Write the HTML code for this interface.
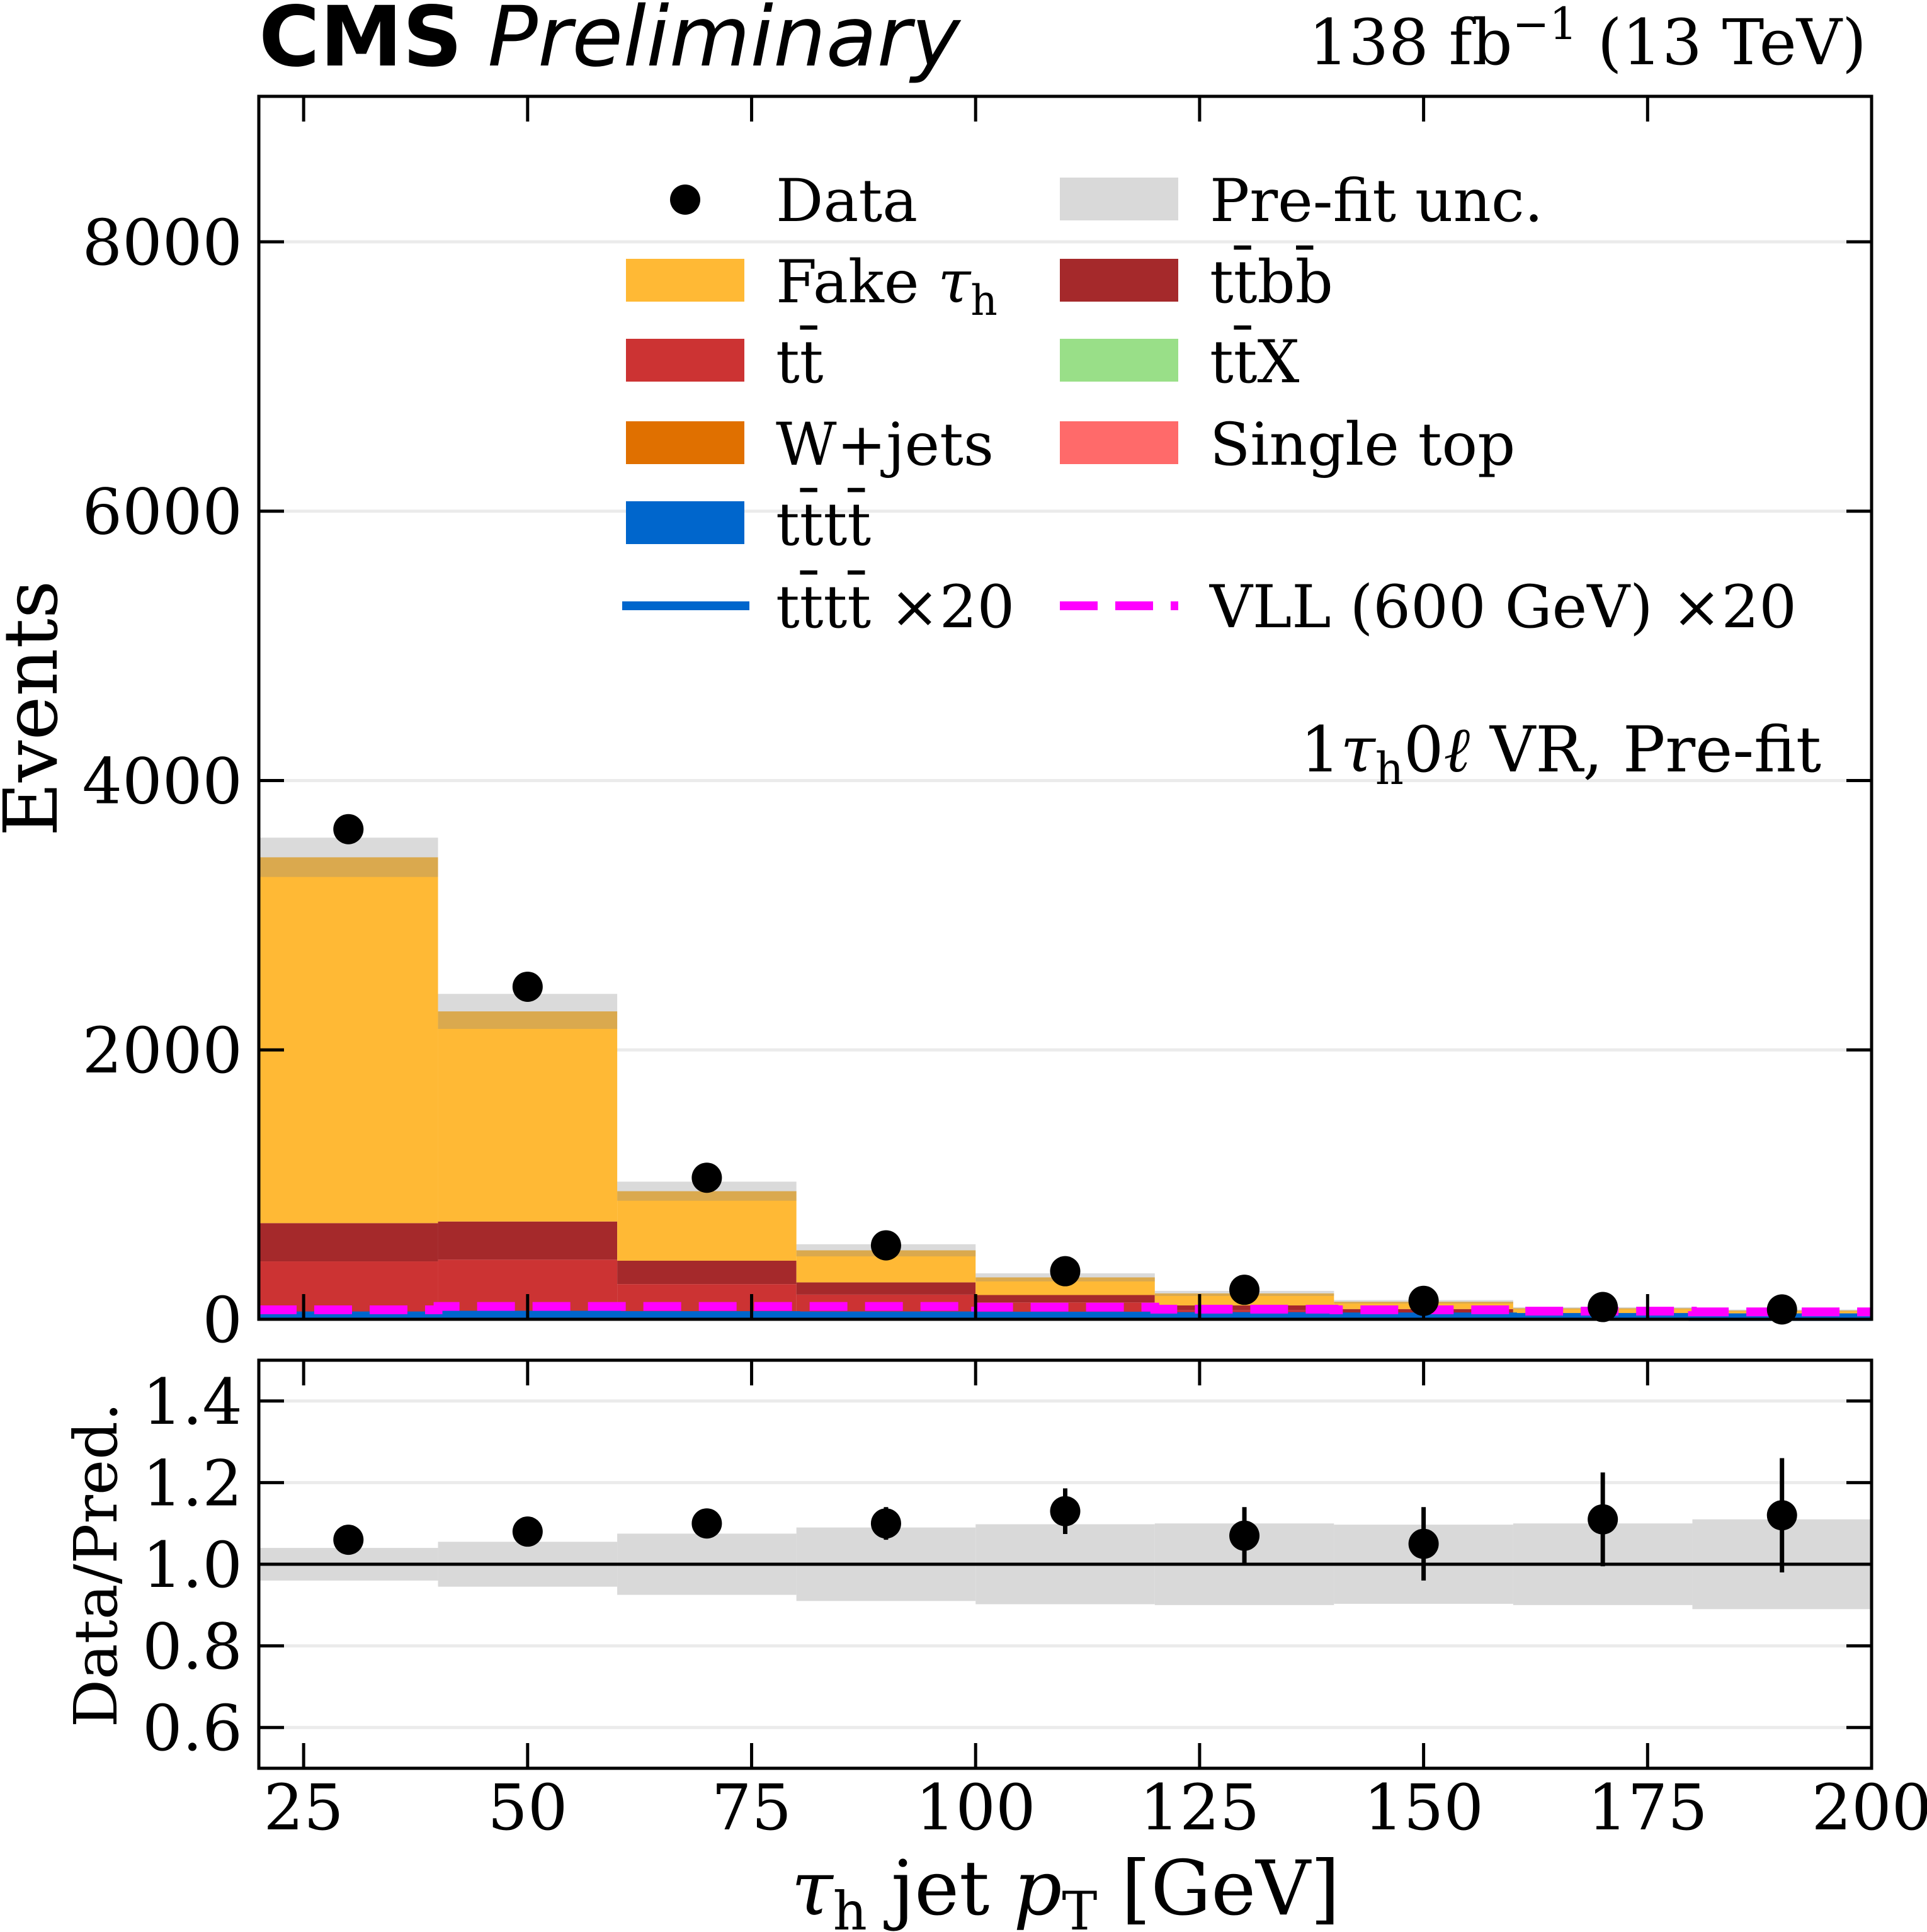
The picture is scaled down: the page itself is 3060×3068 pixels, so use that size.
<!DOCTYPE html>
<html><head><meta charset="utf-8"><style>
html,body{margin:0;padding:0;background:#fff;}
svg{display:block;}
text{font-family:"DejaVu Serif","Liberation Serif",serif;fill:#000;}
</style></head><body>
<svg id="chart" width="3060" height="3068" viewBox="0 0 3060 3068" xmlns="http://www.w3.org/2000/svg">
<g id="main"></g>
<g id="ratio"></g>
<g id="legend"></g>
<text x="411" y="104" font-size="132"><tspan font-family="DejaVu Sans" font-weight="bold">CMS</tspan><tspan font-family="DejaVu Sans" font-style="italic" dx="40">Preliminary</tspan></text>
<text x="2964" y="102" font-size="100" text-anchor="end">138 fb<tspan dy="-40" font-size="70">−1</tspan><tspan dy="40"> (13 TeV)</tspan></text>
<text x="2892" y="1225" font-size="100" text-anchor="end">1<tspan font-style="italic">τ</tspan><tspan font-size="70" dy="20">h</tspan><tspan dy="-20">0</tspan><tspan font-style="italic">ℓ</tspan> VR, Pre-fit</text>
<text x="0" y="0" font-size="118" text-anchor="middle" transform="translate(90,1125) rotate(-90)">Events</text>
<text x="0" y="0" font-size="95" text-anchor="middle" transform="translate(185,2485) rotate(-90)">Data/Pred.</text>
<text x="1692" y="3040" font-size="120" text-anchor="middle"><tspan font-style="italic">τ</tspan><tspan font-size="84" dy="24">h</tspan><tspan dy="-24"> jet </tspan><tspan font-style="italic">p</tspan><tspan font-size="84" dy="24">T</tspan><tspan dy="-24"> [GeV]</tspan></text>
</svg>
<script>
const binEdges=[20,40,60,80,100,120,140,160,180,200];
const dataVals=[3639,2469,1051,549,357,219,137,91,73];
const predTotal=[3430,2286,951,512,311,192,130,82,65];
const uncAbs=[146,130,71,45,30,19,13,8,7];
const ttttVals=[20,22,20,18,15,12,10,8,7];
const ttVals=[382,399,227,156,104,52,36,20,15];
const ttbbVals=[284,283,174,91,55,36,27,15,10];
const wjetsVals=[10,8,5,3,2,1,1,1,1];
const ttxVals=[8,6,4,3,2,1,1,1,1];
const stVals=[10,8,5,3,2,1,1,1,1];
const ttttX20=[30,35,32,30,28,25,22,18,16];
const vllX20=[70,95,95,95,90,75,70,60,55];
const ratioVals=[1.06,1.08,1.10,1.10,1.13,1.07,1.05,1.11,1.12];
const ratioErr=[0.02,0.02,0.03,0.04,0.056,0.07,0.09,0.115,0.14];
const ratioUnc=[0.04,0.055,0.075,0.09,0.098,0.1,0.097,0.1,0.11];
const yTicksMain=[0,2000,4000,6000,8000];
const yTicksRatio=[0.6,0.8,1.0,1.2,1.4];
const yTickRatioLabels=["0.6","0.8","1.0","1.2","1.4"];
const xTicks=[25,50,75,100,125,150,175,200];

const NS="http://www.w3.org/2000/svg";
const L=411,R=2972,MT=153,MB=2095,RT=2160,RB=2808,YMAX=9080;
const X=v=>L+(v-20)/(200-20)*(R-L);
const Y=v=>MB-v/YMAX*(MB-MT);
const YR=v=>RB-(v-0.5)/1.0*(RB-RT);
function mk(p,tag,a){const e=document.createElementNS(NS,tag);for(const k in a)e.setAttribute(k,a[k]);p.appendChild(e);return e;}
const main=document.getElementById('main'),ratio=document.getElementById('ratio'),leg=document.getElementById('legend');

yTicksMain.forEach(t=>{if(t===0)return;const g=mk(main,'line',{x1:L,x2:R,y1:Y(t),y2:Y(t),stroke:'#ebebeb','stroke-width':5});

});
yTicksRatio.forEach(t=>{if(t===1.0)return;const g=mk(ratio,'line',{x1:L,x2:R,y1:YR(t),y2:YR(t),stroke:'#ebebeb','stroke-width':5});

});

const stackOrder=[[ttttVals,'#0066cc','tttt'],[stVals,'#ff6a6a','single-top'],[ttxVals,'#99df88','ttx'],[wjetsVals,'#e07000','wjets'],[ttVals,'#cc3333','tt'],[ttbbVals,'#a5292b','ttbb']];
for(let i=0;i<9;i++){
  let base=0;
  stackOrder.forEach(([arr,col,nm])=>{
    const top=base+arr[i];
    const r=mk(main,'rect',{x:X(binEdges[i]),y:Y(top),width:X(binEdges[i+1])-X(binEdges[i]),height:Y(base)-Y(top),fill:col});
    
    
    base=top;
  });
  const fr=mk(main,'rect',{x:X(binEdges[i]),y:Y(predTotal[i]),width:X(binEdges[i+1])-X(binEdges[i]),height:Y(base)-Y(predTotal[i]),fill:'#ffb935'});
  
  
  const u=mk(main,'rect',{x:X(binEdges[i]),y:Y(predTotal[i]+uncAbs[i]),width:X(binEdges[i+1])-X(binEdges[i]),height:Y(predTotal[i]-uncAbs[i])-Y(predTotal[i]+uncAbs[i]),fill:'#868686','fill-opacity':0.31});
  
  
}
function stepPath(arr){let d='';for(let i=0;i<9;i++){d+=(i?'L':'M')+X(binEdges[i])+','+Y(arr[i])+'L'+X(binEdges[i+1])+','+Y(arr[i]);}return d;}
const tl=mk(main,'path',{d:stepPath(ttttX20),fill:'none',stroke:'#0066cc','stroke-width':12});


const vl=mk(main,'path',{d:stepPath(vllX20),fill:'none',stroke:'#ff00ff','stroke-width':14,'stroke-dasharray':'60,28'});


for(let i=0;i<9;i++){
  const cx=X((binEdges[i]+binEdges[i+1])/2);
  const e=Math.sqrt(dataVals[i]);
  const el=mk(main,'line',{x1:cx,x2:cx,y1:Y(dataVals[i]+e),y2:Y(dataVals[i]-e),stroke:'#000','stroke-width':7});
  
  
  const c=mk(main,'circle',{cx:cx,cy:Y(dataVals[i]),r:24,fill:'#000'});
  
  
}
for(let i=0;i<9;i++){
  const b=mk(ratio,'rect',{x:X(binEdges[i]),y:YR(1+ratioUnc[i]),width:X(binEdges[i+1])-X(binEdges[i]),height:YR(1-ratioUnc[i])-YR(1+ratioUnc[i]),fill:'#d9d9d9'});
  
  
}
const one=mk(ratio,'line',{x1:L,x2:R,y1:YR(1),y2:YR(1),stroke:'#000','stroke-width':5});


for(let i=0;i<9;i++){
  const cx=X((binEdges[i]+binEdges[i+1])/2);
  const el=mk(ratio,'line',{x1:cx,x2:cx,y1:YR(ratioVals[i]+ratioErr[i]),y2:YR(ratioVals[i]-ratioErr[i]),stroke:'#000','stroke-width':7});
  
  
  const c=mk(ratio,'circle',{cx:cx,cy:YR(ratioVals[i]),r:24,fill:'#000'});
  
  
}
[[main,MT,MB],[ratio,RT,RB]].forEach(([g,t,b],k)=>{
  const f=mk(g,'rect',{x:L,y:t,width:R-L,height:b-t,fill:'none',stroke:'#000','stroke-width':5});
  
  
  xTicks.forEach(v=>{
    const a=mk(g,'line',{x1:X(v),x2:X(v),y1:b,y2:b-40,stroke:'#000','stroke-width':5});
    
    
    const c=mk(g,'line',{x1:X(v),x2:X(v),y1:t,y2:t+40,stroke:'#000','stroke-width':5});
    
    
  });
});
yTicksMain.forEach(v=>{
  [[L,L+40],[R,R-40]].forEach(([a,b])=>{const t=mk(main,'line',{x1:a,x2:b,y1:Y(v),y2:Y(v),stroke:'#000','stroke-width':5});
  
  });
  const tx=mk(main,'text',{x:385,y:Y(v)+36,'font-size':100,'text-anchor':'end'});tx.textContent=String(v);
  
  
});
yTicksRatio.forEach((v,i)=>{
  [[L,L+40],[R,R-40]].forEach(([a,b])=>{const t=mk(ratio,'line',{x1:a,x2:b,y1:YR(v),y2:YR(v),stroke:'#000','stroke-width':5});
  
  });
  const tx=mk(ratio,'text',{x:385,y:YR(v)+36,'font-size':100,'text-anchor':'end'});tx.textContent=yTickRatioLabels[i];
  
  
});
xTicks.forEach(v=>{
  const tx=mk(ratio,'text',{x:X(v),y:2905,'font-size':100,'text-anchor':'middle'});tx.textContent=String(v);
  
  
});
const legItems=[
 ['dot',null,'Data',0,0],['box','#d9d9d9','Pre-fit unc.',1,0],
 ['box','#ffb935','Fake τh',0,1],['box','#a5292b','tt̄bb̄',1,1],
 ['box','#cc3333','tt̄',0,2],['box','#99df88','tt̄X',1,2],
 ['box','#e07000','W+jets',0,3],['box','#ff6a6a','Single top',1,3],
 ['box','#0066cc','tt̄tt̄',0,4],
 ['line','#0066cc','tt̄tt̄ ×20',0,5],['dash','#ff00ff','VLL (600 GeV) ×20',1,5]];
const rowY=[317,446,573,704,831,962];
const colX=[994,1683], txtX=[1232,1921];
legItems.forEach(([kind,col,label,c,r])=>{
  const y=rowY[r];let m;
  if(kind==='dot')m=mk(leg,'circle',{cx:colX[c]+94,cy:y,r:24,fill:'#000'});
  else if(kind==='box')m=mk(leg,'rect',{x:colX[c],y:y-35,width:188,height:68,fill:col});
  else if(kind==='line')m=mk(leg,'line',{x1:colX[c]-6,x2:colX[c]+196,y1:y,y2:y,stroke:col,'stroke-width':14});
  else m=mk(leg,'line',{x1:colX[c],x2:colX[c]+188,y1:y,y2:y,stroke:col,'stroke-width':14,'stroke-dasharray':'60,28'});
  
  
  const t=mk(leg,'text',{x:txtX[c],y:y+34,'font-size':94});
  if(label==='Fake τh'){t.innerHTML='Fake <tspan font-style="italic">τ</tspan><tspan font-size="66" dy="20">h</tspan>';}
  else t.textContent=label;
  
  
});
</script>
</body></html>
